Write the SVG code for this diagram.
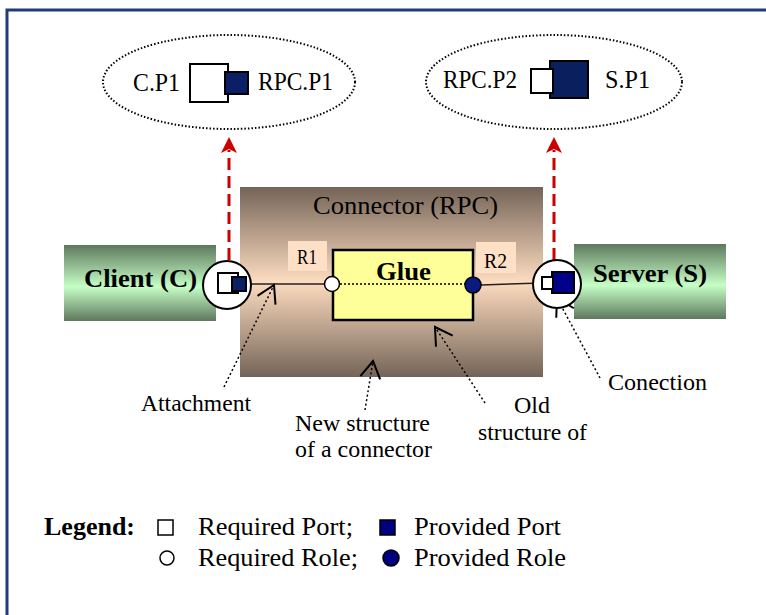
<svg xmlns="http://www.w3.org/2000/svg" width="766" height="615" viewBox="0 0 766 615" font-family="'Liberation Serif','Times New Roman',Times,serif">
<style>
text{font-family:"Liberation Serif","Times New Roman",Times,serif;fill:#000}
.b{font-weight:bold}
.ell{fill:none;stroke:#000;stroke-width:2;stroke-dasharray:1.5 2}
.dot{fill:none;stroke:#000;stroke-width:1.5;stroke-dasharray:2 2.5}
.red{fill:none;stroke:#cc0000;stroke-width:3;stroke-dasharray:12 6}
.port{stroke:#000;stroke-width:2}
.wp{fill:#fff}
.np{fill:#0a1f66}
</style>
<defs>
<linearGradient id="gBrown" x1="0" y1="0" x2="0" y2="1">
<stop offset="0" stop-color="#746457"/>
<stop offset="0.5" stop-color="#fddcc0"/>
<stop offset="1" stop-color="#746457"/>
</linearGradient>
<linearGradient id="gGreen" x1="0" y1="0" x2="0" y2="1">
<stop offset="0" stop-color="#5e785e"/>
<stop offset="0.55" stop-color="#c6ffc6"/>
<stop offset="1" stop-color="#5e785e"/>
</linearGradient>
<marker id="vhead" markerUnits="userSpaceOnUse" markerWidth="40" markerHeight="40" refX="0" refY="0" viewBox="-20 -20 40 40" orient="auto">
<path d="M-17,-10 L0,0 L-17,10" fill="none" stroke="#000" stroke-width="2"/>
</marker>
</defs>
<rect x="7" y="10" width="780" height="640" fill="#fff" stroke="#1f3c78" stroke-width="3"/>

<g id="connector-rpc">
<rect x="240" y="187" width="303" height="190" fill="url(#gBrown)"/>
<text x="313" y="214" font-size="26" textLength="185" lengthAdjust="spacingAndGlyphs">Connector (RPC)</text>
</g>

<g id="client">
<rect x="64" y="245" width="152" height="76" fill="url(#gGreen)"/>
<text class="b" x="84" y="287" font-size="26" textLength="113" lengthAdjust="spacingAndGlyphs">Client (C)</text>
</g>

<g id="server">
<rect x="574" y="244" width="152" height="75" fill="url(#gGreen)"/>
<text class="b" x="593" y="282" font-size="26" textLength="114" lengthAdjust="spacingAndGlyphs">Server (S)</text>
</g>

<g id="r1">
<rect x="288" y="241" width="39" height="30" fill="#fde0c6"/>
<text x="297" y="264" font-size="20" textLength="20" lengthAdjust="spacingAndGlyphs">R1</text>
</g>
<g id="r2">
<rect x="476" y="242" width="40" height="31" fill="#fde0c6"/>
<text x="484" y="268" font-size="21" textLength="23" lengthAdjust="spacingAndGlyphs">R2</text>
</g>

<g id="connectors">
<line x1="246" y1="284" x2="325" y2="284" stroke="#222" stroke-width="1.5"/>
<line x1="481" y1="285" x2="542" y2="283" stroke="#222" stroke-width="1.5"/>
<line class="red" x1="229" y1="260" x2="229" y2="150"/>
<path d="M229,137 L221,153 L229,149 L237,153 Z" fill="#cc0000"/>
<line class="red" x1="554" y1="260" x2="554" y2="150"/>
<path d="M554,137 L546,153 L554,149 L562,153 Z" fill="#cc0000"/>
<line class="dot" x1="224" y1="387" x2="274" y2="285" marker-end="url(#vhead)"/>
<line class="dot" x1="365" y1="410" x2="373" y2="361" marker-end="url(#vhead)"/>
<line class="dot" x1="485" y1="403" x2="435" y2="327" marker-end="url(#vhead)"/>
<line class="dot" x1="600" y1="378" x2="557" y2="298" marker-end="url(#vhead)"/>
</g>

<g id="glue">
<rect x="333" y="250" width="140" height="70" fill="#ffff99" stroke="#000" stroke-width="2.5"/>
<line x1="340" y1="284" x2="465" y2="284" stroke="#000" stroke-width="1.5" stroke-dasharray="2 2"/>
<text class="b" x="376" y="280" font-size="26" textLength="55" lengthAdjust="spacingAndGlyphs">Glue</text>
<circle cx="332" cy="284" r="7.5" fill="#fff" stroke="#000" stroke-width="1.5"/>
<circle cx="473" cy="285" r="8" fill="#0a1a80" stroke="#000" stroke-width="1.5"/>
</g>

<g id="client-port">
<circle cx="227" cy="285" r="24" fill="#fff" stroke="#000" stroke-width="2"/>
<rect class="port wp" x="218" y="273" width="20" height="20"/>
<rect class="port np" x="232" y="277" width="14" height="14"/>
</g>

<g id="server-port">
<circle cx="557" cy="284" r="24" fill="#fff" stroke="#000" stroke-width="2"/>
<rect class="port" x="552" y="272" width="22" height="21" fill="#00008b"/>
<rect class="port wp" x="542" y="277" width="11" height="12"/>
</g>

<g id="ellipse-client">
<ellipse class="ell" cx="229" cy="82" rx="126" ry="47"/>
<rect class="port wp" x="190" y="64" width="38" height="38"/>
<rect class="port np" x="225" y="72" width="23" height="22"/>
<text x="133" y="91" font-size="26" textLength="47" lengthAdjust="spacingAndGlyphs">C.P1</text>
<text x="258" y="90" font-size="26" textLength="75" lengthAdjust="spacingAndGlyphs">RPC.P1</text>
</g>

<g id="ellipse-server">
<ellipse class="ell" cx="554" cy="82" rx="128" ry="47"/>
<rect class="port" x="550" y="61" width="38" height="37" fill="#0a1f5e"/>
<rect class="port wp" x="531" y="69" width="22" height="24"/>
<text x="443" y="88" font-size="26" textLength="74" lengthAdjust="spacingAndGlyphs">RPC.P2</text>
<text x="605" y="88" font-size="26" textLength="45" lengthAdjust="spacingAndGlyphs">S.P1</text>
</g>

<g id="labels">
<text x="141" y="411" font-size="23" textLength="110" lengthAdjust="spacingAndGlyphs">Attachment</text>
<text x="295" y="431" font-size="24" textLength="135" lengthAdjust="spacingAndGlyphs">New structure</text>
<text x="295" y="457" font-size="24" textLength="137" lengthAdjust="spacingAndGlyphs">of a connector</text>
<text x="514" y="413" font-size="24" textLength="36" lengthAdjust="spacingAndGlyphs">Old</text>
<text x="478" y="440" font-size="24" textLength="109" lengthAdjust="spacingAndGlyphs">structure of</text>
<text x="608" y="390" font-size="24" textLength="99" lengthAdjust="spacingAndGlyphs">Conection</text>
</g>

<g id="legend">
<text class="b" x="44" y="535" font-size="25" textLength="91" lengthAdjust="spacingAndGlyphs">Legend:</text>
<rect x="158" y="520" width="15" height="15" fill="#fff" stroke="#000" stroke-width="1.5"/>
<text x="198" y="535" font-size="25" textLength="155" lengthAdjust="spacingAndGlyphs">Required Port;</text>
<rect x="380" y="520" width="15" height="15" fill="#000080" stroke="#000" stroke-width="1.5"/>
<text x="414" y="535" font-size="25" textLength="147" lengthAdjust="spacingAndGlyphs">Provided Port</text>
<circle cx="167" cy="558" r="7" fill="#fff" stroke="#000" stroke-width="1.5"/>
<text x="198" y="566" font-size="25" textLength="160" lengthAdjust="spacingAndGlyphs">Required Role;</text>
<circle cx="391" cy="558" r="8" fill="#000080" stroke="#000" stroke-width="1.5"/>
<text x="414" y="566" font-size="25" textLength="152" lengthAdjust="spacingAndGlyphs">Provided Role</text>
</g>
</svg>
